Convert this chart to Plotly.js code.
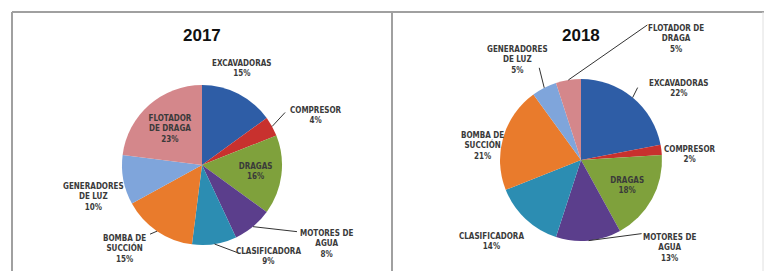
<!DOCTYPE html>
<html>
<head>
<meta charset="utf-8">
<script src="https://cdn.plot.ly/plotly-3.0.1.min.js"></script>
<style>html,body{margin:0;padding:0;background:#fff;}#chart{width:767px;height:271px;}</style>
</head>
<body>
<div id="chart"></div>
<script>
// ---- data ----
const labels2017 = ["EXCAVADORAS", "COMPRESOR", "DRAGAS", "MOTORES DE<br>AGUA", "CLASIFICADORA", "BOMBA DE<br>SUCCIÓN", "GENERADORES<br>DE LUZ", "FLOTADOR<br>DE DRAGA"];
const values2017 = [15, 4, 16, 8, 9, 15, 10, 23];
const labels2018 = ["EXCAVADORAS", "COMPRESOR", "DRAGAS", "MOTORES DE<br>AGUA", "CLASIFICADORA", "BOMBA DE<br>SUCCIÓN", "GENERADORES<br>DE LUZ", "FLOTADOR DE<br>DRAGA"];
const values2018 = [22, 2, 18, 13, 14, 21, 5, 5];
const titles = ["2017", "2018"];

// ---- styling / layout (not data) ----
const colors = ["#2E5DA6", "#C8312E", "#7FA13C", "#5B3E8C", "#2C8DB2", "#E97B2C", "#7FA5DB", "#D4878B"];
const pos2017 = ["none", "none", "inside", "none", "none", "none", "none", "inside"];
const pos2018 = ["none", "none", "inside", "none", "none", "none", "none", "none"];
// label placement in px relative to the slice's edge midpoint: [textDx, textDy, leaderEndDx, leaderEndDy] (leader optional)
const off2017 = [[3, -25], [44, -11, 13, -14], null, [74, 17, 44, 5], [54, 12, 24, 9], [-33, 18, -7, 3], [-30, 17], null];
const off2018 = [[46, -9, 5, -10], [29, 5], null, [81, 7, 53, -7], [-34, 22], [-21, 9], [-27, -28, -5, -20], [108, -41, 79, -55]];

const W = 767, H = 271;
const font = {family: "'DejaVu Sans Condensed', 'Liberation Sans', Arial, sans-serif", size: 8, color: "#3a3a3a", weight: "bold"};
const geo = [{cx: 202, cy: 165, r: 80}, {cx: 581, cy: 160, r: 81}];

function pieTrace(labels, values, pos, g) {
  return {
    type: "pie",
    labels: labels,
    values: values,
    sort: false,
    direction: "clockwise",
    rotation: 0,
    marker: {colors: colors, line: {width: 0}},
    textposition: pos,
    texttemplate: "%{label}<br>%{value}%",
    textfont: font,
    insidetextfont: font,
    insidetextorientation: "horizontal",
    showlegend: false,
    hoverinfo: "label+value",
    domain: {x: [(g.cx - g.r) / W, (g.cx + g.r) / W], y: [(H - g.cy - g.r) / H, (H - g.cy + g.r) / H]}
  };
}

const annotations = [];
const shapes = [];

// outside labels + leader lines, anchored at each slice's edge midpoint (computed from the data)
function sliceLabels(values, labels, offs, g) {
  const total = values.reduce((a, b) => a + b, 0);
  let before = 0;
  values.forEach((v, i) => {
    const frac = (before + v / 2) / total;
    before += v;
    const o = offs[i];
    if (!o) return;
    const th = frac * 2 * Math.PI;
    const px = g.cx + g.r * Math.sin(th);
    const py = g.cy - g.r * Math.cos(th);
    annotations.push({
      text: labels[i] + "<br>" + v + "%",
      xref: "paper", yref: "paper",
      x: (px + o[0]) / W, y: 1 - (py + o[1]) / H,
      xanchor: "center", yanchor: "middle",
      showarrow: false, font: font, align: "center"
    });
    if (o.length > 2) {
      shapes.push({
        type: "line", xref: "paper", yref: "paper",
        x0: px / W, y0: 1 - py / H,
        x1: (px + o[2]) / W, y1: 1 - (py + o[3]) / H,
        line: {color: "#333", width: 1}
      });
    }
  });
}

const data = [
  pieTrace(labels2017, values2017, pos2017, geo[0]),
  pieTrace(labels2018, values2018, pos2018, geo[1])
];

const lineStyle = {color: "#A0A0A0", width: 2};
const titleFont = {family: "'Liberation Sans', Arial, sans-serif", size: 17, color: "#111"};
shapes.push(
  {type: "line", xref: "paper", yref: "paper", x0: 12 / W, x1: 764 / W, y0: 1 - 12 / H, y1: 1 - 12 / H, line: lineStyle},
  {type: "line", xref: "paper", yref: "paper", x0: 12 / W, x1: 12 / W, y0: 1 - 12 / H, y1: 0, line: lineStyle},
  {type: "line", xref: "paper", yref: "paper", x0: 392 / W, x1: 392 / W, y0: 1 - 12 / H, y1: 0, line: lineStyle},
  {type: "line", xref: "paper", yref: "paper", x0: 763 / W, x1: 763 / W, y0: 1 - 12 / H, y1: 0, line: {color: "#E0E0E0", width: 1}}
);
annotations.push(
  {text: "<b>" + titles[0] + "</b>", xref: "paper", yref: "paper", x: 202 / W, y: 1 - 35 / H, showarrow: false, xanchor: "center", yanchor: "middle", font: titleFont},
  {text: "<b>" + titles[1] + "</b>", xref: "paper", yref: "paper", x: 581 / W, y: 1 - 35 / H, showarrow: false, xanchor: "center", yanchor: "middle", font: titleFont}
);
sliceLabels(values2017, labels2017, off2017, geo[0]);
sliceLabels(values2018, labels2018, off2018, geo[1]);

const layout = {
  width: W, height: H,
  margin: {l: 0, r: 0, t: 0, b: 0},
  paper_bgcolor: "#fff",
  showlegend: false,
  shapes: shapes,
  annotations: annotations
};

Plotly.newPlot("chart", data, layout, {displayModeBar: false, staticPlot: true});
</script>
</body>
</html>
